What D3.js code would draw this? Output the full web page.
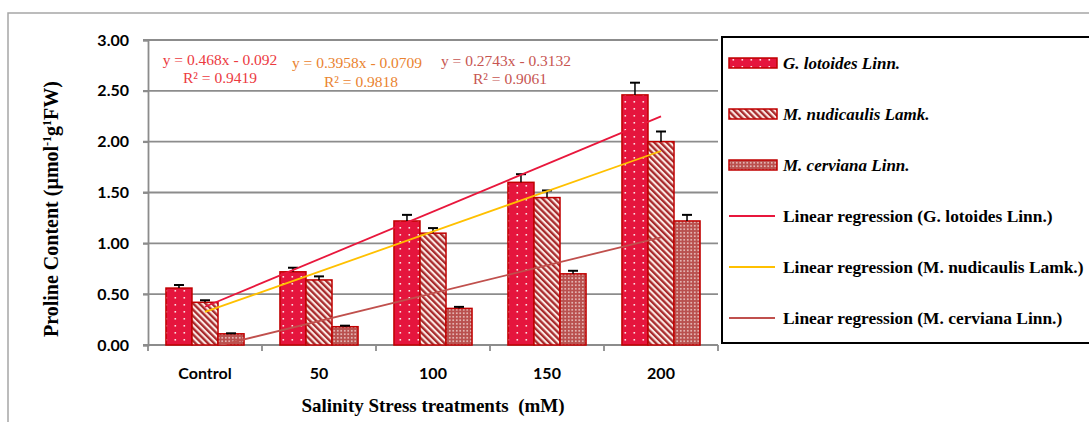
<!DOCTYPE html>
<html><head><meta charset="utf-8">
<script src="https://cdn.jsdelivr.net/npm/d3@7"></script>
<style>html,body{margin:0;padding:0;background:#fff;overflow:hidden}</style>
</head><body>
<svg id="chart" width="1089" height="422"></svg>
<script>
// ---------- data ----------
const categories = ["Control", "50", "100", "150", "200"];
const seriesNames = ["G. lotoides Linn.", "M. nudicaulis Lamk.", "M. cerviana Linn."];
const gLotoides   = [0.56, 0.72, 1.22, 1.60, 2.46];
const mNudicaulis = [0.42, 0.64, 1.10, 1.45, 2.00];
const mCerviana   = [0.11, 0.18, 0.36, 0.70, 1.22];
const gLotoidesErr   = [0.03, 0.04, 0.06, 0.08, 0.12];
const mNudicaulisErr = [0.02, 0.035, 0.05, 0.07, 0.10];
const mCervianaErr   = [0.005, 0.01, 0.015, 0.03, 0.06];
const trendSlopes = [0.468, 0.3958, 0.2743];
const trendIntercepts = [-0.092, -0.0709, -0.3132];
const equationLabels = ["y = 0.468x - 0.092", "y = 0.3958x - 0.0709", "y = 0.2743x - 0.3132"];
const r2Labels = ["R² = 0.9419", "R² = 0.9818", "R² = 0.9061"];
const trendNames = ["Linear regression (G. lotoides Linn.)", "Linear regression (M. nudicaulis Lamk.)", "Linear regression (M. cerviana Linn.)"];
const yTicks = [0, 0.5, 1.0, 1.5, 2.0, 2.5, 3.0];

const values = [gLotoides, mNudicaulis, mCerviana];
const errors = [gLotoidesErr, mNudicaulisErr, mCervianaErr];
const patternIds = ["pG", "pN", "pC"];
const trendColors = ["#e8173c", "#ffc000", "#c0504d"];
const eqColors = ["#ec3a3f", "#ea8330", "#c75551"];

// ---------- layout ----------
const svg = d3.select("#chart");
const L = 148, R = 718, T = 40, B = 345;

const defs = svg.append("defs");
// G. lotoides: crimson with white dots
let p = defs.append("pattern").attr("id", "pG").attr("patternUnits", "userSpaceOnUse")
  .attr("width", 9).attr("height", 7);
p.append("rect").attr("width", 9).attr("height", 7).attr("fill", "#e5153d");
p.append("rect").attr("x", 3.5).attr("y", 3).attr("width", 1.6).attr("height", 1.6).attr("fill", "#fbe0e4");
// M. nudicaulis: diagonal stripes
p = defs.append("pattern").attr("id", "pN").attr("patternUnits", "userSpaceOnUse")
  .attr("width", 4.4).attr("height", 4.4).attr("patternTransform", "rotate(-45)");
p.append("rect").attr("width", 4.4).attr("height", 4.4).attr("fill", "#fbe9e4");
p.append("rect").attr("width", 2.3).attr("height", 4.4).attr("fill", "#a82a2c");
// M. cerviana: brownish with fine white dot lattice
p = defs.append("pattern").attr("id", "pC").attr("patternUnits", "userSpaceOnUse")
  .attr("width", 3.5).attr("height", 3.5);
p.append("rect").attr("width", 3.5).attr("height", 3.5).attr("fill", "#b9504e");
p.append("rect").attr("x", 1).attr("y", 1).attr("width", 1.5).attr("height", 1.5).attr("fill", "#f3d9d6");

defs.append("clipPath").attr("id", "plotClip").append("rect")
  .attr("x", L).attr("y", T).attr("width", R - L).attr("height", B - T);

// outer chart border
svg.append("rect").attr("x", 8).attr("y", 13).attr("width", 1100).attr("height", 430)
  .attr("fill", "none").attr("stroke", "#a6a6a6").attr("stroke-width", 1.5);

const x = d3.scaleBand().domain(categories).range([L, R]).padding(0);
const xSub = d3.scaleBand().domain(seriesNames).range([0, x.bandwidth()]).paddingInner(0).paddingOuter(0.69);
const y = d3.scaleLinear().domain([0, 3]).range([B, T]);
const xLin = d3.scaleLinear().domain([1, categories.length])
  .range([x(categories[0]) + x.bandwidth() / 2, x(categories[categories.length - 1]) + x.bandwidth() / 2]);

// gridlines
svg.append("g").selectAll("line").data(yTicks).join("line")
  .attr("x1", L - 5).attr("x2", R).attr("y1", d => y(d)).attr("y2", d => y(d))
  .attr("stroke", "#8c8c8c").attr("stroke-width", 1.8);

// y axis
const yAxis = svg.append("g").attr("transform", `translate(${L},0)`)
  .call(d3.axisLeft(y).tickValues(yTicks).tickFormat(d3.format(".2f")).tickSize(5).tickPadding(14));
yAxis.select(".domain").attr("stroke", "#8c8c8c").attr("stroke-width", 1.8);
yAxis.selectAll(".tick line").attr("stroke", "#8c8c8c").attr("stroke-width", 1.8);
yAxis.selectAll("text").attr("font-family", "Lato, 'Open Sans', sans-serif").attr("font-weight", "bold")
  .attr("font-size", 16).attr("fill", "#000");

// x axis ticks (boundaries)
const boundaries = categories.map(c => x(c)).concat([R]);
svg.append("g").selectAll("line").data(boundaries).join("line")
  .attr("x1", d => d).attr("x2", d => d).attr("y1", B).attr("y2", B + 6)
  .attr("stroke", "#8c8c8c").attr("stroke-width", 1.8);
svg.append("g").selectAll("text").data(categories).join("text")
  .attr("x", d => x(d) + x.bandwidth() / 2).attr("y", 379).attr("text-anchor", "middle")
  .attr("font-family", "Lato, 'Open Sans', sans-serif").attr("font-weight", "bold")
  .attr("font-size", 16).text(d => d);

// bars
seriesNames.forEach((s, si) => {
  svg.append("g").selectAll("rect").data(values[si]).join("rect")
    .attr("x", (d, i) => x(categories[i]) + xSub(s))
    .attr("y", d => y(d))
    .attr("width", xSub.bandwidth())
    .attr("height", d => y(0) - y(d))
    .attr("fill", `url(#${patternIds[si]})`)
    .attr("stroke", "#c00000").attr("stroke-width", 1.5);
});
// error bars
seriesNames.forEach((s, si) => {
  const g = svg.append("g");
  values[si].forEach((v, i) => {
    const cx = x(categories[i]) + xSub(s) + xSub.bandwidth() / 2;
    const top = y(v + errors[si][i]);
    g.append("line").attr("x1", cx).attr("x2", cx).attr("y1", y(v)).attr("y2", top)
      .attr("stroke", "#000").attr("stroke-width", 1.5);
    g.append("line").attr("x1", cx - 5).attr("x2", cx + 5).attr("y1", top).attr("y2", top)
      .attr("stroke", "#000").attr("stroke-width", 2);
  });
});

// trendlines
const trendG = svg.append("g").attr("clip-path", "url(#plotClip)");
trendSlopes.forEach((m, i) => {
  const b = trendIntercepts[i];
  trendG.append("line")
    .attr("x1", xLin(1)).attr("y1", y(m * 1 + b))
    .attr("x2", xLin(categories.length)).attr("y2", y(m * categories.length + b))
    .attr("stroke", trendColors[i]).attr("stroke-width", 1.8);
});

// equation labels
const eqPos = [[220, 65, 220, 83], [357, 68, 361, 87], [506, 66, 510, 84]];
eqPos.forEach((pp, i) => {
  svg.append("text").attr("x", pp[0]).attr("y", pp[1]).attr("text-anchor", "middle")
    .attr("font-family", "'Liberation Serif', 'Times New Roman', serif").attr("font-size", 15.5)
    .attr("fill", eqColors[i]).text(equationLabels[i]);
  svg.append("text").attr("x", pp[2]).attr("y", pp[3]).attr("text-anchor", "middle")
    .attr("font-family", "'Liberation Serif', 'Times New Roman', serif").attr("font-size", 15.5)
    .attr("fill", eqColors[i]).text(r2Labels[i]);
});

// axis titles
const yt = svg.append("text").attr("transform", "translate(58,209) rotate(-90)").attr("text-anchor", "middle")
  .attr("font-family", "'Liberation Serif', 'Times New Roman', serif").attr("font-weight", "bold").attr("font-size", 20);
yt.append("tspan").text("Proline Content (µmol");
yt.append("tspan").attr("font-size", 12).attr("dy", -7).text("-1");
yt.append("tspan").attr("dy", 7).text("g");
yt.append("tspan").attr("font-size", 12).attr("dy", -7).text("1");
yt.append("tspan").attr("dy", 7).text("FW)");

svg.append("text").attr("x", 433).attr("y", 412).attr("text-anchor", "middle")
  .attr("font-family", "'Liberation Serif', 'Times New Roman', serif").attr("font-weight", "bold")
  .attr("font-size", 19).attr("xml:space", "preserve").text("Salinity Stress treatments  (mM)");

// legend
svg.append("rect").attr("x", 722).attr("y", 37).attr("width", 380).attr("height", 306)
  .attr("fill", "none").attr("stroke", "#000").attr("stroke-width", 2);
const legY = d => 63 + d * 51;
seriesNames.forEach((s, i) => {
  svg.append("rect").attr("x", 729).attr("y", legY(i) - 5).attr("width", 48).attr("height", 10)
    .attr("fill", `url(#${patternIds[i]})`).attr("stroke", "#c00000").attr("stroke-width", 1.5);
  svg.append("text").attr("x", 783).attr("y", legY(i) + 5.5)
    .attr("font-family", "'Liberation Serif', 'Times New Roman', serif").attr("font-weight", "bold")
    .attr("font-style", "italic").attr("font-size", 17).text(s);
});
trendNames.forEach((s, j) => {
  const i = j + 3;
  svg.append("line").attr("x1", 729).attr("x2", 775).attr("y1", legY(i)).attr("y2", legY(i))
    .attr("stroke", trendColors[j]).attr("stroke-width", 1.8);
  svg.append("text").attr("x", 783).attr("y", legY(i) + 5.5)
    .attr("font-family", "'Liberation Serif', 'Times New Roman', serif").attr("font-weight", "bold")
    .attr("font-size", 17.4).text(s);
});
</script>
</body></html>
